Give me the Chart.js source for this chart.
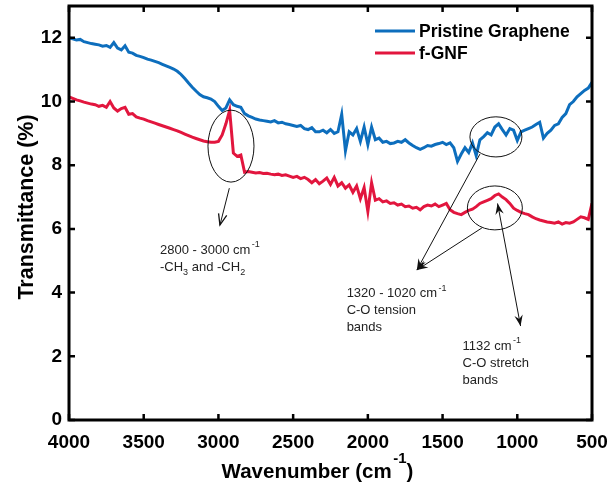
<!DOCTYPE html>
<html>
<head>
<meta charset="utf-8">
<script src="https://cdn.jsdelivr.net/npm/chart.js@4.4.1/dist/chart.umd.min.js"></script>
<style>
  html, body { margin: 0; padding: 0; background: #fff; }
</style>
</head>
<body>
<canvas id="ftirChart" width="613" height="489"></canvas>
<script>
// FTIR spectra

const wavenumbers = [
  4000, 3975, 3950, 3925, 3900, 3875, 3850, 3825, 3800, 3775,
  3750, 3725, 3700, 3675, 3650, 3625, 3600, 3575, 3550, 3525,
  3500, 3475, 3450, 3425, 3400, 3375, 3350, 3325, 3300, 3275,
  3250, 3225, 3200, 3175, 3150, 3125, 3100, 3075, 3050, 3025,
  3000, 2975, 2950, 2925, 2900, 2875, 2850, 2825, 2800, 2775,
  2750, 2725, 2700, 2675, 2650, 2625, 2600, 2575, 2550, 2525,
  2500, 2475, 2450, 2425, 2400, 2375, 2350, 2325, 2300, 2275,
  2250, 2225, 2200, 2175, 2150, 2125, 2100, 2075, 2050, 2025,
  2000, 1975, 1950, 1925, 1900, 1875, 1850, 1825, 1800, 1775,
  1750, 1725, 1700, 1675, 1650, 1625, 1600, 1575, 1550, 1525,
  1500, 1475, 1450, 1425, 1400, 1375, 1350, 1325, 1300, 1275,
  1250, 1225, 1200, 1175, 1150, 1125, 1100, 1075, 1050, 1025,
  1000, 975, 950, 925, 900, 875, 850, 825, 800, 775,
  750, 725, 700, 675, 650, 625, 600, 575, 550, 525,
  500
];

const pristineGraphene = [
  12.00, 11.97, 11.93, 11.95, 11.88, 11.85, 11.82, 11.80, 11.78, 11.74,
  11.76, 11.70, 11.85, 11.68, 11.62, 11.75, 11.55, 11.52, 11.45, 11.42,
  11.38, 11.33, 11.30, 11.26, 11.22, 11.17, 11.12, 11.07, 11.02, 10.95,
  10.85, 10.72, 10.58, 10.45, 10.33, 10.22, 10.15, 10.12, 10.08, 10.00,
  9.85, 9.72, 9.80, 10.05, 9.90, 9.85, 9.82, 9.62, 9.55, 9.50,
  9.45, 9.42, 9.40, 9.38, 9.36, 9.40, 9.33, 9.35, 9.30, 9.28,
  9.25, 9.22, 9.25, 9.15, 9.12, 9.18, 9.05, 9.05, 9.10, 9.02,
  9.12, 9.00, 9.05, 9.60, 8.45, 9.05, 8.95, 9.15, 8.75, 9.20,
  8.65, 9.20, 8.80, 8.85, 8.72, 8.75, 8.68, 8.70, 8.75, 8.72,
  8.80, 8.70, 8.62, 8.55, 8.50, 8.55, 8.62, 8.60, 8.65, 8.68,
  8.72, 8.65, 8.70, 8.55, 8.12, 8.35, 8.55, 8.40, 8.70, 8.30,
  8.80, 8.90, 9.02, 8.95, 9.20, 9.30, 9.12, 8.95, 9.15, 9.10,
  8.78, 9.05, 9.10, 9.15, 9.20, 9.28, 9.35, 8.85, 9.00, 9.10,
  9.25, 9.30, 9.50, 9.62, 9.90, 10.00, 10.15, 10.25, 10.35, 10.42,
  10.60
];

const fGNF = [
  10.15, 10.10, 10.05, 10.02, 9.98, 9.95, 9.92, 9.90, 9.85, 9.88,
  9.82, 10.00, 9.80, 9.70, 9.78, 9.82, 9.60, 9.62, 9.52, 9.48,
  9.45, 9.40, 9.36, 9.32, 9.28, 9.24, 9.20, 9.16, 9.12, 9.08,
  9.03, 8.98, 8.93, 8.88, 8.84, 8.80, 8.76, 8.74, 8.72, 8.72,
  8.75, 8.95, 9.30, 9.72, 8.38, 8.28, 8.32, 7.78, 7.80, 7.78,
  7.76, 7.77, 7.74, 7.75, 7.72, 7.70, 7.72, 7.68, 7.70, 7.66,
  7.62, 7.65, 7.58, 7.62, 7.55, 7.45, 7.55, 7.42, 7.50, 7.60,
  7.40, 7.62, 7.35, 7.45, 7.28, 7.38, 7.15, 7.35, 6.95, 7.30,
  6.55, 7.45, 6.90, 6.95, 6.85, 6.88, 6.80, 6.82, 6.75, 6.78,
  6.70, 6.72, 6.65, 6.68, 6.60, 6.70, 6.75, 6.72, 6.78, 6.70,
  6.75, 6.80, 6.60, 6.52, 6.48, 6.45, 6.52, 6.58, 6.62, 6.70,
  6.80, 6.85, 6.90, 6.95, 7.05, 7.10, 7.00, 6.92, 6.80, 6.65,
  6.58, 6.52, 6.48, 6.45, 6.38, 6.32, 6.28, 6.25, 6.22, 6.20,
  6.18, 6.22, 6.15, 6.20, 6.18, 6.22, 6.30, 6.38, 6.35, 6.30,
  6.80
];

const seriesNames = ["Pristine Graphene", "f-GNF"];
const seriesColors = ["#0d6ebd", "#e2163e"];

// annotation marks, in data units (wavenumber, transmittance)
const ellipseMarks = [
  { wn: 2916, t: 8.60, dwn: 154, dt: 1.13 },
  { wn: 1143, t: 8.89, dwn: 174, dt: 0.63 },
  { wn: 1150, t: 6.66, dwn: 184, dt: 0.69 }
];

const arrowMarks = [
  { from: [2927, 7.28], to: [2990, 6.12], head: "open", both: false },
  { from: [1250, 8.35], to: [1672, 4.71], head: "stealth", both: false },
  { from: [1237, 6.03], to: [1672, 4.71], head: "stealth", both: false },
  { from: [978, 2.95], to: [1132, 6.80], head: "stealth", both: true }
];

// each line: [wavenumber at left edge, transmittance at baseline, parts]
const noteLines = [
  [3391, 5.22, [["2800 - 3000 cm", ""], ["-1", "sup"]]],
  [3391, 4.69, [["-CH", ""], ["3", "sub"], [" and -CH", ""], ["2", "sub"]]],
  [2142, 3.85, [["1320 - 1020 cm", ""], ["-1", "sup"]]],
  [2142, 3.32, [["C-O tension", ""]]],
  [2142, 2.79, [["bands", ""]]],
  [1366, 2.20, [["1132 cm", ""], ["-1", "sup"]]],
  [1366, 1.67, [["C-O stretch", ""]]],
  [1366, 1.13, [["bands", ""]]]
];

const FONT = '"Liberation Sans", Arial, Helvetica, sans-serif';
Chart.defaults.font.family = FONT;

function drawRich(ctx, x, y, parts, size, weight, supRaise) {
  parts.forEach(([text, mode]) => {
    const s = mode ? Math.round(size * 0.72) : size;
    ctx.font = weight + " " + s + "px " + FONT;
    let dy = 0;
    if (mode === "sup") dy = -size * supRaise;
    if (mode === "sub") dy = size * 0.33;
    if (mode === "sup") x += 1.5;
    ctx.fillText(text, x, y + dy);
    x += ctx.measureText(text).width;
  });
  return x;
}

function richWidth(ctx, parts, size, weight) {
  let w = 0;
  parts.forEach(([text, mode]) => {
    const s = mode ? Math.round(size * 0.72) : size;
    ctx.font = weight + " " + s + "px " + FONT;
    w += ctx.measureText(text).width + (mode === "sup" ? 1.5 : 0);
  });
  return w;
}

function arrowHead(ctx, tx, ty, ang, kind) {
  const len = 11, wid = 4.2;
  const c = Math.cos(ang), s = Math.sin(ang);
  const bx = tx - c * len, by = ty - s * len;
  const nx = -s, ny = c;
  if (kind === "open") {
    ctx.beginPath();
    ctx.moveTo(bx + nx * wid, by + ny * wid);
    ctx.lineTo(tx, ty);
    ctx.lineTo(bx - nx * wid, by - ny * wid);
    ctx.stroke();
  } else {
    ctx.beginPath();
    ctx.moveTo(tx, ty);
    ctx.lineTo(bx + nx * wid, by + ny * wid);
    ctx.lineTo(tx - c * len * 0.65, ty - s * len * 0.65);
    ctx.lineTo(bx - nx * wid, by - ny * wid);
    ctx.closePath();
    ctx.fill();
  }
}

const notesPlugin = {
  id: "ftirNotes",
  afterDatasetsDraw(chart) {
    const ctx = chart.ctx;
    const xs = chart.scales.x, ys = chart.scales.y;
    const area = chart.chartArea;
    ctx.save();
    ctx.strokeStyle = "#111";
    ctx.fillStyle = "#111";
    ctx.lineWidth = 1;

    ellipseMarks.forEach(e => {
      const cx = xs.getPixelForValue(e.wn), cy = ys.getPixelForValue(e.t);
      const rx = Math.abs(xs.getPixelForValue(e.wn + e.dwn) - cx);
      const ry = Math.abs(ys.getPixelForValue(e.t + e.dt) - cy);
      ctx.beginPath();
      ctx.ellipse(cx, cy, rx, ry, 0, 0, Math.PI * 2);
      ctx.stroke();
    });

    arrowMarks.forEach(a => {
      const x1 = xs.getPixelForValue(a.from[0]), y1 = ys.getPixelForValue(a.from[1]);
      const x2 = xs.getPixelForValue(a.to[0]), y2 = ys.getPixelForValue(a.to[1]);
      ctx.lineWidth = 1;
      ctx.beginPath();
      ctx.moveTo(x1, y1);
      ctx.lineTo(x2, y2);
      ctx.stroke();
      ctx.lineWidth = 1.3;
      arrowHead(ctx, x2, y2, Math.atan2(y2 - y1, x2 - x1), a.head);
      if (a.both) arrowHead(ctx, x1, y1, Math.atan2(y1 - y2, x1 - x2), a.head);
    });

    ctx.fillStyle = "#222";
    ctx.textBaseline = "alphabetic";
    ctx.textAlign = "left";
    noteLines.forEach(([wn, t, parts]) => {
      drawRich(ctx, xs.getPixelForValue(wn), ys.getPixelForValue(t), parts, 13, "normal", 0.5);
    });

    // frame with inward ticks
    ctx.strokeStyle = "#000";
    ctx.lineWidth = 3;
    ctx.strokeRect(area.left, area.top, area.right - area.left, area.bottom - area.top);
    ctx.lineWidth = 2.5;
    const tl = 6;
    xs.ticks.forEach(tk => {
      const x = xs.getPixelForValue(tk.value);
      ctx.beginPath();
      ctx.moveTo(x, area.bottom); ctx.lineTo(x, area.bottom - tl);
      ctx.moveTo(x, area.top); ctx.lineTo(x, area.top + tl);
      ctx.stroke();
    });
    ys.ticks.forEach(tk => {
      const y = ys.getPixelForValue(tk.value);
      ctx.beginPath();
      ctx.moveTo(area.left, y); ctx.lineTo(area.left + tl, y);
      ctx.moveTo(area.right, y); ctx.lineTo(area.right - tl, y);
      ctx.stroke();
    });

    // legend
    ctx.textBaseline = "middle";
    ctx.fillStyle = "#000";
    ctx.font = "bold 17.5px " + FONT;
    chart.data.datasets.forEach((ds, i) => {
      const y = area.top + 25 + i * 22;
      ctx.strokeStyle = ds.borderColor;
      ctx.lineWidth = 3;
      ctx.beginPath();
      ctx.moveTo(area.right - 217, y);
      ctx.lineTo(area.right - 177, y);
      ctx.stroke();
      ctx.fillText(ds.label, area.right - 173, y + 1);
    });

    // axis titles
    ctx.textBaseline = "alphabetic";
    const xTitle = [["Wavenumber (cm", ""], ["-1", "sup"], [")", ""]];
    const w = richWidth(ctx, xTitle, 20.5, "bold");
    drawRich(ctx, (area.left + area.right) / 2 - 13 - w / 2, 478, xTitle, 20.5, "bold", 0.72);

    ctx.save();
    ctx.translate(33, (area.top + area.bottom) / 2 - 6);
    ctx.rotate(-Math.PI / 2);
    ctx.textAlign = "center";
    ctx.font = "bold 21.5px " + FONT;
    ctx.fillText("Transmittance (%)", 0, 0);
    ctx.restore();

    ctx.restore();
  }
};

new Chart(document.getElementById("ftirChart"), {
  type: "line",
  data: {
    datasets: [
      {
        label: seriesNames[0],
        data: wavenumbers.map((w, i) => ({ x: w, y: pristineGraphene[i] })),
        borderColor: seriesColors[0],
        borderWidth: 3,
        pointRadius: 0,
        tension: 0
      },
      {
        label: seriesNames[1],
        data: wavenumbers.map((w, i) => ({ x: w, y: fGNF[i] })),
        borderColor: seriesColors[1],
        borderWidth: 3,
        pointRadius: 0,
        tension: 0
      }
    ]
  },
  options: {
    responsive: false,
    animation: false,
    devicePixelRatio: 1,
    layout: { padding: { top: 6, right: 21, left: 0, bottom: 0 } },
    plugins: {
      legend: { display: false },
      tooltip: { enabled: false }
    },
    scales: {
      x: {
        type: "linear",
        reverse: true,
        min: 500,
        max: 4000,
        grid: { display: false, drawTicks: false },
        border: { display: false },
        ticks: {
          stepSize: 500,
          autoSkip: false,
          maxRotation: 0,
          padding: 11,
          color: "#000",
          font: { size: 19, weight: "bold" },
          callback: (v) => String(v)
        },
        afterFit: (s) => { s.height = 69; s.paddingLeft = 0; s.paddingRight = 0; }
      },
      y: {
        min: 0,
        max: 13,
        grid: { display: false, drawTicks: false },
        border: { display: false },
        ticks: {
          stepSize: 2,
          padding: 7,
          color: "#000",
          font: { size: 19, weight: "bold" },
          callback: (v) => String(v)
        },
        afterBuildTicks: (s) => { s.ticks = s.ticks.filter(t => t.value % 2 === 0); },
        afterFit: (s) => { s.width = 69; s.paddingTop = 0; s.paddingBottom = 0; }
      }
    }
  },
  plugins: [notesPlugin]
});
</script>
</body>
</html>
